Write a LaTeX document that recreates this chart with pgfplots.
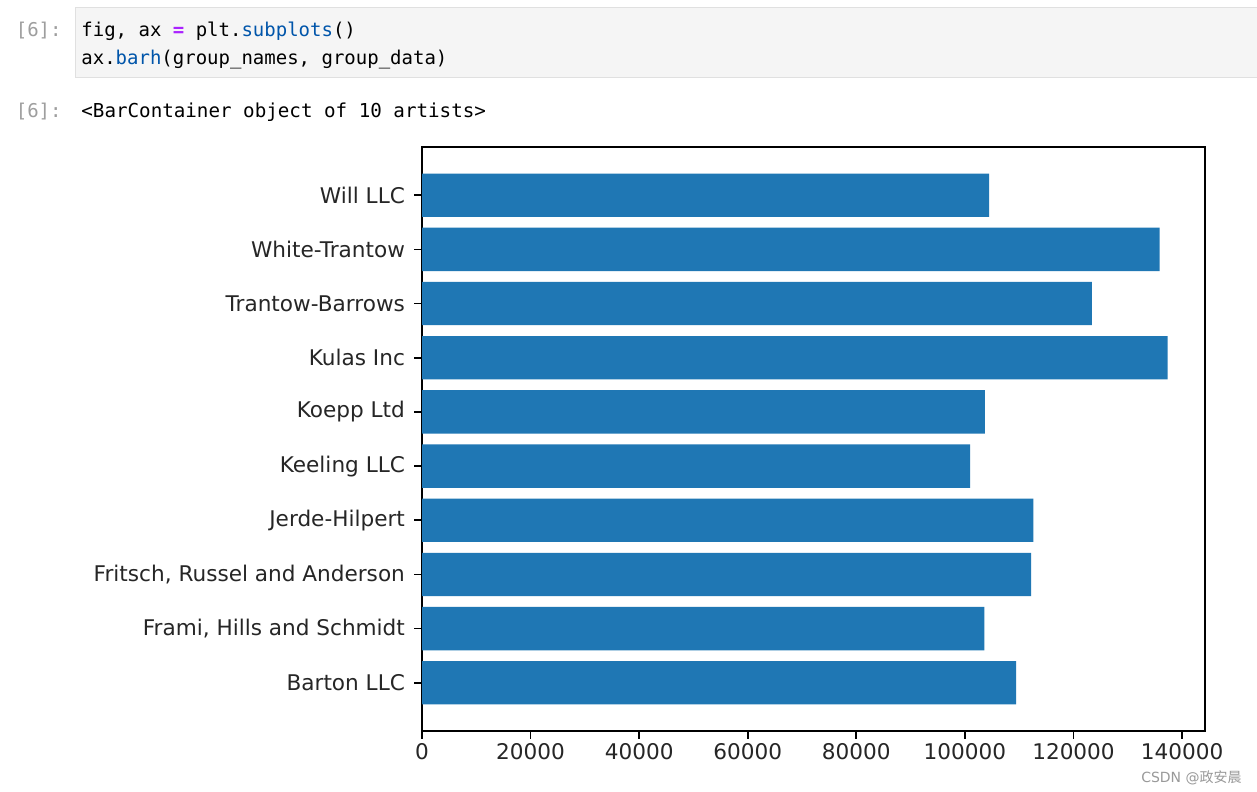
\documentclass[border=0pt]{standalone}
\usepackage{fontspec}
\setmainfont{DejaVu Sans}
\newfontfamily\mono{DejaVu Sans Mono}
\newfontfamily\cjk{Noto Sans CJK SC}
\usepackage{pgfplots}
\pgfplotsset{compat=1.18}

\definecolor{barblue}{HTML}{1F77B4}
\definecolor{kwpurple}{HTML}{AA22FF}
\definecolor{propblue}{HTML}{0055AA}
\definecolor{cellbg}{HTML}{F5F5F5}
\definecolor{cellborder}{HTML}{E0E0E0}
\definecolor{promptgray}{HTML}{9E9E9E}
\definecolor{labelgray}{HTML}{262626}

\begin{document}
\begin{tikzpicture}
\fill[white] (0,0) rectangle (628.5bp,396bp);
\useasboundingbox (0,0) rectangle (628.5bp,396bp);

% notebook cell
\filldraw[fill=cellbg, draw=cellborder, line width=0.5bp] (37.5bp,357bp) rectangle (629bp,392bp);
\node[anchor=base east, inner sep=0, text=promptgray, font=\mono\fontsize{9.5bp}{11bp}\selectfont] at (31bp,377.5bp) {[6]:};
\node[anchor=base west, inner sep=0, font=\mono\fontsize{9.5bp}{11bp}\selectfont] at (40.5bp,377.5bp)
  {fig, ax {\color{kwpurple}\bfseries =} plt.{\color{propblue}subplots}()};
\node[anchor=base west, inner sep=0, font=\mono\fontsize{9.5bp}{11bp}\selectfont] at (40.5bp,363.5bp)
  {ax.{\color{propblue}barh}(group\_names, group\_data)};
\node[anchor=base east, inner sep=0, text=promptgray, font=\mono\fontsize{9.5bp}{11bp}\selectfont] at (31bp,337bp) {[6]:};
\node[anchor=base west, inner sep=0, font=\mono\fontsize{9.6bp}{11bp}\selectfont] at (40.5bp,337bp)
  {<BarContainer object of 10 artists>};

\begin{axis}[
    at={(211bp,30.5bp)}, anchor=south west,
    scale only axis,
    width=391.5bp, height=292bp,
    xmin=0, xmax=144219.6,
    ymin=-0.89, ymax=9.89,
    xbar, bar width=0.8, bar shift=0pt,
    axis line style={line width=0.88bp, black},
    tick align=outside, tick pos=left,
    major tick length=3.85bp,
    tick style={line width=0.88bp, black},
    xtick={0,20000,...,140000},
    ytick={0,...,9},
    yticklabels={Barton LLC,{Frami, Hills and Schmidt},{Fritsch, Russel and Anderson},Jerde-Hilpert,Keeling LLC,Koepp Ltd,Kulas Inc,Trantow-Barrows,White-Trantow,Will LLC},
    scaled x ticks=false,
    xticklabel style={/pgf/number format/fixed, /pgf/number format/1000 sep={}},
    /pgf/number format/assume math mode=true,
    tick label style={font=\fontsize{10.8bp}{13bp}\selectfont, text=labelgray},
    xticklabel style={inner sep=1bp, yshift=-1bp},
    yticklabel style={inner sep=1bp, xshift=-3.5bp},
]
\addplot[fill=barblue, draw=none] coordinates {
    (109438.50,0)
    (103569.59,1)
    (112214.71,2)
    (112591.43,3)
    (100934.30,4)
    (103660.54,5)
    (137351.96,6)
    (123381.38,7)
    (135841.99,8)
    (104437.60,9)
};
\end{axis}

\node[anchor=base east, inner sep=0, text=black!40, font=\fontsize{7bp}{8bp}\selectfont] at (621bp,5bp) {CSDN @{\cjk 政安晨}};
\end{tikzpicture}
\end{document}
